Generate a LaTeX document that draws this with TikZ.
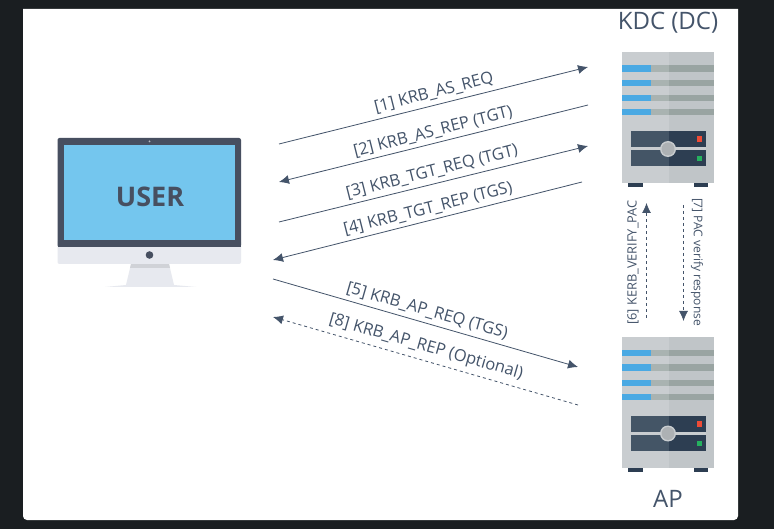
\documentclass[tikz,border=0pt]{standalone}
\usepackage{fontspec}
\setmainfont{Open Sans}
\usetikzlibrary{arrows.meta}
\definecolor{slate}{HTML}{44546A}
\definecolor{bezel}{HTML}{474F60}
\definecolor{screenblue}{HTML}{74C6EE}
\definecolor{chin}{HTML}{E7E9EF}
\definecolor{caseleft}{HTML}{C9CDD0}
\definecolor{caseright}{HTML}{C0C5C8}
\definecolor{stripeleft}{HTML}{A9B3B1}
\definecolor{striperight}{HTML}{99A4A2}
\definecolor{stripeblue}{HTML}{4AA9E3}
\definecolor{panelleft}{HTML}{445566}
\definecolor{panelright}{HTML}{2D3E52}
\definecolor{ledred}{HTML}{EE4B36}
\definecolor{ledgreen}{HTML}{25B15F}
\definecolor{backdrop}{HTML}{1A1E21}
\tikzset{
  msg/.style = {draw=slate, line width=0.8pt, -{Latex[length=10pt,width=9pt]}},
  msgdash/.style = {msg, dashed},
  msgtext/.style = {text=slate, font=\fontsize{16.5}{19}\selectfont, inner sep=0pt},
  sidetext/.style = {text=slate, font=\fontsize{12}{14}\selectfont, inner sep=0pt},
  hosttext/.style = {text=slate, font=\fontsize{24}{28}\selectfont, inner sep=0pt},
  pics/serverbox/.style = {code = {
    \fill[caseleft] (0,0) rectangle (46.5,130.5);
    \fill[caseright] (46.5,0) rectangle (92,130.5);
    \foreach \y in {13,27.5,42.5,56.5} {
      \fill[stripeblue] (0,\y) rectangle (29,\y+6.5);
      \fill[stripeleft] (29,\y) rectangle (46.5,\y+6.5);
      \fill[striperight] (46.5,\y) rectangle (92,\y+6.5);
    }
    \fill[panelleft] (8.5,79) rectangle (46.5,114);
    \fill[panelright] (46.5,79) rectangle (83.5,114);
    \fill[caseleft] (8.5,95) rectangle (83.5,98);
    \fill[caseleft] (46,96.5) circle (8pt);
    \fill[caseright!90!black] (46,96.5) circle (6.5pt);
    \fill[ledred] (74.5,84) rectangle (79.5,89.5);
    \fill[ledgreen] (74.5,103.5) rectangle (79.5,108.5);
    \fill[panelright] (6,130.5) rectangle (21,135);
    \fill[panelright] (72,130.5) rectangle (86,135);
  }}
}
\begin{document}
\begin{tikzpicture}[x=1pt, y=-1pt]
  \useasboundingbox (0,0) rectangle (774,529);
  \fill[backdrop] (0,0) rectangle (774,529);
  \fill[white] (23,9) -- (738,9) -- (738,516) arc[start angle=0, end angle=90, radius=4]
    -- (27,520) arc[start angle=90, end angle=180, radius=4] -- cycle;

  % monitor
  \fill[chin] (126,285) -- (131,264) -- (169,264) -- (174,285) -- (196,287) -- (105,287) -- cycle;
  \fill[chin!90!black] (131,264) -- (169,264) -- (170,268) -- (130,268) -- cycle;
  \fill[chin, rounded corners=2pt] (57.5,240) rectangle (241,264);
  \fill[bezel, rounded corners=2pt] (57.5,138) rectangle (241,247);
  \fill[bezel] (57.5,240) rectangle (241,247);
  \fill[screenblue] (64,145) rectangle (235,240);
  \fill[white!60!bezel] (149.5,141.5) circle (1pt);
  \fill[bezel] (149.5,255) circle (3.8pt);
  \node[text=bezel, font=\fontsize{27}{32}\selectfont\bfseries, inner sep=0pt] (user) at (150,197) {USER};

  % servers
  \pic at (622,52.5) {serverbox};
  \pic at (622,337) {serverbox};
  \node[hosttext] (kdc) at (668,23) {KDC (DC)};
  \node[hosttext] (ap) at (668,499) {AP};

  % connector ends
  \coordinate (u1) at (279,144);  \coordinate (k1) at (588,67);
  \coordinate (k2) at (588,105);  \coordinate (u2) at (279,182);
  \coordinate (u3) at (279,222);  \coordinate (k3) at (588,146);
  \coordinate (k4) at (582,182);  \coordinate (u4) at (273,260);
  \coordinate (u5) at (273,279);  \coordinate (a5) at (578,367);
  \coordinate (a8) at (578,405);  \coordinate (u8) at (273,317);
  \coordinate (a6) at (646.5,318); \coordinate (k6) at (646.5,203);
  \coordinate (k7) at (683.5,205); \coordinate (a7) at (683.5,321);

  \draw[msg] (u1) -- (k1);
  \draw[msg] (k2) -- (u2);
  \draw[msg] (u3) -- (k3);
  \draw[msg] (k4) -- (u4);
  \draw[msg] (u5) -- (a5);
  \draw[msgdash] (a8) -- (u8);
  \draw[msgdash] (a6) -- (k6);
  \draw[msgdash] (k7) -- (a7);

  \node[msgtext, rotate=14.2] (t1) at (434,93) {[1] KRB\_AS\_REQ};
  \node[msgtext, rotate=14.2] (t2) at (433,132) {[2] KRB\_AS\_REP (TGT)};
  \node[msgtext, rotate=14.2] (t3) at (432,172) {[3] KRB\_TGT\_REQ (TGT)};
  \node[msgtext, rotate=14.2] (t4) at (428,209) {[4] KRB\_TGT\_REP (TGS)};
  \node[msgtext, rotate=-16] (t5) at (427,311) {[5] KRB\_AP\_REQ (TGS)};
  \node[msgtext, rotate=-16] (t8) at (426,347) {[8] KRB\_AP\_REP (Optional)};
  \node[sidetext, font=\fontsize{12.8}{15}\selectfont, rotate=90] (t6) at (633,262.5) {[6] KERB\_VERIFY\_PAC};
  \node[sidetext, rotate=-90] (t7) at (697,262) {[7] PAC verify response};
\end{tikzpicture}
\end{document}
